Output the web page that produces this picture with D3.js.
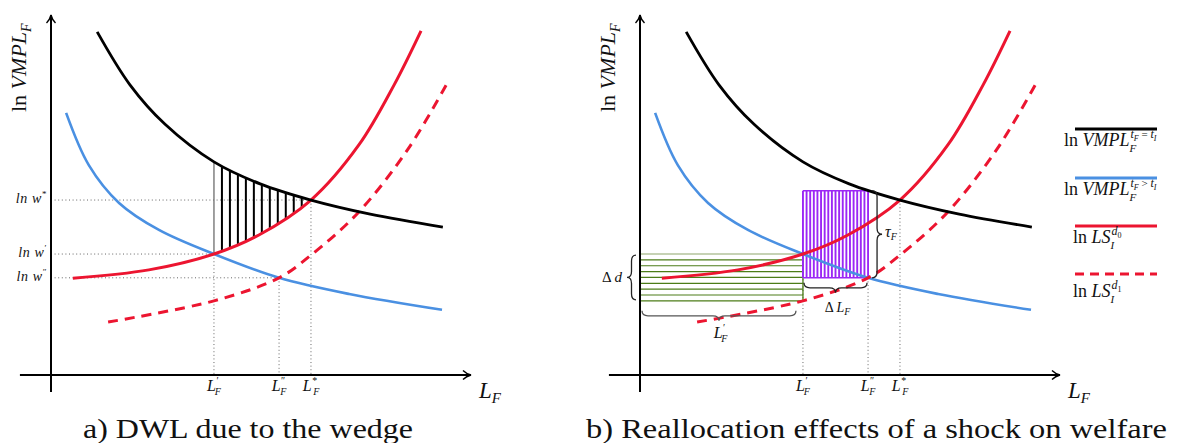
<!DOCTYPE html>
<html>
<head>
<meta charset="utf-8">
<script src="https://cdn.jsdelivr.net/npm/d3@7"></script>
<style>
  html, body { margin: 0; padding: 0; background: #fff; }
  svg { display: block; }
</style>
</head>
<body>
<svg id="chart" width="1182" height="443"></svg>
<script>
// ---- Schematic curves (model units: labour on x, log value on y) ----
const vmplEqual  = [[1.10, 9.53], [1.88, 8.06], [2.71, 6.97], [3.88, 5.92], [4.98, 5.31], [6.19, 4.86], [7.60, 4.47], [9.33, 4.11]];
const vmplWedge  = [[0.36, 7.28], [0.90, 5.83], [1.62, 4.78], [2.57, 4.03], [3.88, 3.36], [5.43, 2.70], [7.10, 2.25], [9.31, 1.81]];
const supplyBase = [[0.52, 2.69], [2.33, 2.92], [3.88, 3.36], [4.95, 3.89], [6.19, 4.86], [7.33, 6.39], [8.17, 8.06], [8.81, 9.56]];
const supplyShock = [[1.36, 1.47], [3.88, 2.06], [5.43, 2.70], [6.19, 3.33], [7.33, 4.53], [8.52, 6.31], [9.45, 8.14]];

// ---- Labour levels and wage levels ----
const laborValues = [3.88, 5.43, 6.19];          // L', L'', L*
const laborPrimes = ["\u2032", "\u2033", "*"];
const wageValues = [4.86, 3.36, 2.70];           // w*, w', w''
const wageMarks = ["*", "\u2032", "\u2033"];

// ---- Right-panel welfare boxes ----
const tauTop = 5.12;      // VMPL at L'' (top of the wedge box)
const shockLow = 2.06;    // shocked supply at L' (bottom of the Δd box)

const captions = ["a) DWL due to the wedge", "b) Reallocation effects of a shock on welfare"];

const SERIF = "Liberation Serif, Times New Roman, Times, serif";
const BLACK = "#000", BLUE = "#4a90e2", RED = "#ec1530", PURPLE = "#9b27f5", GREEN = "#4c7d18";

const svg = d3.select("#chart");
const defs = svg.append("defs");

// LaTeX-like open arrow tip
defs.append("marker")
  .attr("id", "tip").attr("viewBox", "-10 -6 12 12")
  .attr("refX", 0).attr("refY", 0)
  .attr("markerWidth", 12).attr("markerHeight", 12)
  .attr("markerUnits", "userSpaceOnUse").attr("orient", "auto")
  .append("path")
  .attr("d", "M-8,-4.5 C-5,-1.5 -2,-0.5 0,0 C-2,0.5 -5,1.5 -8,4.5")
  .attr("fill", "none").attr("stroke", "#000").attr("stroke-width", 1.4);

const y = d3.scaleLinear().domain([0, 10]).range([375, 15]);
const xLeft = d3.scaleLinear().domain([0, 10]).range([51, 471]);
const xRight = d3.scaleLinear().domain([0, 10]).range([640, 1060]);

function math(sel, x, yy, parts, anchor) {
  const t = sel.append("text")
    .attr("x", x).attr("y", yy)
    .attr("text-anchor", anchor || "start")
    .attr("font-family", SERIF).attr("fill", "#111");
  let prev = 0;
  parts.forEach(p => {
    const s = t.append("tspan").text(p.t)
      .attr("font-size", p.fs)
      .attr("font-style", p.it ? "italic" : "normal");
    const sh = p.sh || 0;
    if (sh !== prev) s.attr("dy", sh - prev);
    if (p.dx) s.attr("dx", p.dx);
    prev = sh;
  });
  return t;
}

function braceH(x1, x2, yy, h) {
  // horizontal curly brace, tip pointing down (h > 0)
  const xm = (x1 + x2) / 2, r = Math.min(6, (x2 - x1) / 6), m = yy + h / 2;
  return `M${x1},${yy} Q${x1},${m} ${x1 + r},${m} L${xm - r},${m} Q${xm},${m} ${xm},${yy + h} ` +
         `Q${xm},${m} ${xm + r},${m} L${x2 - r},${m} Q${x2},${m} ${x2},${yy}`;
}
function braceV(y1, y2, xx, w) {
  // vertical curly brace, tip pointing left (w < 0) or right (w > 0)
  const ym = (y1 + y2) / 2, r = Math.min(6, (y2 - y1) / 6), m = xx + w / 2;
  return `M${xx},${y1} Q${m},${y1} ${m},${y1 + r} L${m},${ym - r} Q${m},${ym} ${xx + w},${ym} ` +
         `Q${m},${ym} ${m},${ym + r} L${m},${y2 - r} Q${m},${y2} ${xx},${y2}`;
}

function drawPanel(x, id) {
  const g = svg.append("g").attr("class", "panel-" + id);
  const line = d3.line().x(d => x(d[0])).y(d => y(d[1])).curve(d3.curveCatmullRom.alpha(0.5));
  return { g, line };
}

function drawAxes(g, x) {
  g.append("line")
    .attr("x1", x(0)).attr("x2", x(0)).attr("y1", y(-0.47)).attr("y2", y(10))
    .attr("stroke", "#000").attr("stroke-width", 2).attr("marker-end", "url(#tip)");
  g.append("line")
    .attr("x1", x(-0.74)).attr("x2", x(10)).attr("y1", y(0)).attr("y2", y(0))
    .attr("stroke", "#000").attr("stroke-width", 2).attr("marker-end", "url(#tip)");

  math(g, 0, 0, [{ t: "ln ", fs: 22 }, { t: "VMPL", it: true, fs: 22 }, { t: "F", it: true, fs: 14, sh: 5 }])
    .attr("transform", `translate(${x(0) - 25},112) rotate(-90)`);
  math(g, x(10) + 8, 398, [{ t: "L", it: true, fs: 23 }, { t: "F", it: true, fs: 15, sh: 5 }]);

  laborValues.forEach((v, i) => {
    math(g, x(v), 391, [
      { t: "L", it: true, fs: 16 },
      { t: laborPrimes[i], fs: 10, sh: -7, dx: 0.5 },
      { t: "F", it: true, fs: 10, sh: 4, dx: i === 1 ? -5 : -4 }
    ], "middle");
  });
}

function drawCurves(g, line) {
  g.append("path").attr("d", line(vmplWedge)).attr("fill", "none")
    .attr("stroke", BLUE).attr("stroke-width", 2.6);
  g.append("path").attr("d", line(supplyShock)).attr("fill", "none")
    .attr("stroke", RED).attr("stroke-width", 3).attr("stroke-dasharray", "10,7");
  g.append("path").attr("d", line(supplyBase)).attr("fill", "none")
    .attr("stroke", RED).attr("stroke-width", 3);
  g.append("path").attr("d", line(vmplEqual)).attr("fill", "none")
    .attr("stroke", BLACK).attr("stroke-width", 2.8);
}

const dotted = sel => sel.attr("stroke", "#666").attr("stroke-width", 1).attr("stroke-dasharray", "1,2.6");

// ================= Panel a =================
{
  const { g, line } = drawPanel(xLeft, "a");
  const x = xLeft;

  // dotted guides
  const wageEnds = [laborValues[2], laborValues[0], laborValues[1]];
  wageValues.forEach((w, i) => {
    g.append("line").attr("x1", x(0)).attr("x2", x(wageEnds[i]))
      .attr("y1", y(w)).attr("y2", y(w)).call(dotted);
    math(g, x(0) - 4, y(w) + 3, [
      { t: "ln w", it: true, fs: 14 },
      { t: wageMarks[i], fs: 9, sh: -6 }
    ], "end").attr("letter-spacing", 0.6);
  });
  const laborTops = [wageValues[1], wageValues[2], wageValues[0]];
  laborValues.forEach((v, i) => {
    g.append("line").attr("x1", x(v)).attr("x2", x(v))
      .attr("y1", y(laborTops[i])).attr("y2", y(0)).call(dotted);
  });

  // deadweight loss: vertical hatching between VMPL and supply on [L', L*]
  const bottom = y(-1), top = y(11);
  defs.append("clipPath").attr("id", "belowVmpl").append("path")
    .attr("d", line(vmplEqual) + `L${x(vmplEqual[vmplEqual.length - 1][0])},${bottom}L${x(vmplEqual[0][0])},${bottom}Z`);
  defs.append("clipPath").attr("id", "aboveSupply").append("path")
    .attr("d", line(supplyBase) + `L${x(supplyBase[supplyBase.length - 1][0])},${top}L${x(supplyBase[0][0])},${top}Z`);
  const hatch = g.append("g").attr("clip-path", "url(#belowVmpl)")
    .append("g").attr("clip-path", "url(#aboveSupply)");
  const hatchX = d3.range(laborValues[0], laborValues[2], 0.19);
  hatch.selectAll("line").data(hatchX).join("line")
    .attr("x1", d => x(d)).attr("x2", d => x(d))
    .attr("y1", y(wageValues[0] + 1.5)).attr("y2", y(wageValues[1] - 0.2))
    .attr("stroke", (d, i) => i === 0 ? "#777" : "#000")
    .attr("stroke-width", (d, i) => i === 0 ? 1.4 : 2);

  drawCurves(g, line);
  drawAxes(g, x);
}

// ================= Panel b =================
{
  const { g, line } = drawPanel(xRight, "b");
  const x = xRight;

  const laborTops = [wageValues[1], wageValues[2], wageValues[0]];
  laborValues.forEach((v, i) => {
    g.append("line").attr("x1", x(v)).attr("x2", x(v))
      .attr("y1", y(laborTops[i])).attr("y2", y(0)).call(dotted);
  });

  // Δd box: horizontal green hatching between the two supply levels, up to L'
  const greenY = d3.range(0, 9).map(k => shockLow + k * (wageValues[1] - shockLow) / 8);
  g.selectAll("line.green").data(greenY).join("line").attr("class", "green")
    .attr("x1", x(0)).attr("x2", x(laborValues[0]))
    .attr("y1", d => y(d)).attr("y2", d => y(d))
    .attr("stroke", (d, i) => i === greenY.length - 1 ? "#b3c39b" : GREEN)
    .attr("stroke-width", (d, i) => i === greenY.length - 1 ? 1.6 : 1.2);
  g.append("line").attr("x1", x(laborValues[0])).attr("x2", x(laborValues[0]))
    .attr("y1", y(wageValues[1])).attr("y2", y(shockLow))
    .attr("stroke", GREEN).attr("stroke-width", 1.3);

  // wedge box: vertical purple stripes from L' to L''
  const nStripes = 18;
  const purpleX = d3.range(0, nStripes + 1).map(k => laborValues[0] + k * (laborValues[1] - laborValues[0]) / nStripes);
  g.selectAll("line.purple").data(purpleX).join("line").attr("class", "purple")
    .attr("x1", d => x(d)).attr("x2", d => x(d))
    .attr("y1", y(tauTop)).attr("y2", y(wageValues[2]))
    .attr("stroke", PURPLE).attr("stroke-width", 1.9);
  g.append("line").attr("x1", x(laborValues[0])).attr("x2", x(laborValues[1]))
    .attr("y1", y(tauTop)).attr("y2", y(tauTop)).attr("stroke", PURPLE).attr("stroke-width", 1.4);
  g.append("line").attr("x1", x(laborValues[0])).attr("x2", x(laborValues[1]))
    .attr("y1", y(wageValues[2])).attr("y2", y(wageValues[2])).attr("stroke", PURPLE).attr("stroke-width", 1.4);

  drawCurves(g, line);

  // braces and their labels
  const braceStyle = s => s.attr("fill", "none").attr("stroke", "#222").attr("stroke-width", 1.3);
  g.append("path").attr("d", braceV(y(wageValues[1]) + 1, y(shockLow) - 1, x(0) - 4, -9)).call(braceStyle);
  math(g, x(0) - 18, (y(wageValues[1]) + y(shockLow)) / 2 + 5,
    [{ t: "\u0394 ", fs: 15 }, { t: "d", it: true, fs: 15 }], "end");

  g.append("path").attr("d", braceH(x(0) + 2, x(laborValues[0]) - 7, y(shockLow) + 10, 10))
    .call(braceStyle).attr("stroke", "#555");
  math(g, (x(0) + x(laborValues[0])) / 2 - 1, y(shockLow) + 37, [
    { t: "L", it: true, fs: 16 },
    { t: "\u2032", fs: 10, sh: -7, dx: 0.5 },
    { t: "F", it: true, fs: 10, sh: 4, dx: -4 }
  ], "middle");

  g.append("path").attr("d", braceH(x(laborValues[0]) + 1, x(laborValues[1]) - 1, y(wageValues[2]) + 5, 10)).call(braceStyle);
  math(g, (x(laborValues[0]) + x(laborValues[1])) / 2 + 2, y(wageValues[2]) + 34, [
    { t: "\u0394 ", fs: 14 }, { t: "L", it: true, fs: 14 }, { t: "F", it: true, fs: 10, sh: 3 }
  ], "middle");

  g.append("path").attr("d", braceV(y(tauTop), y(wageValues[2]), x(laborValues[1]) + 4, 10)).call(braceStyle);
  math(g, x(laborValues[1]) + 17, (y(tauTop) + y(wageValues[2])) / 2 + 3, [
    { t: "\u03c4", it: true, fs: 16 }, { t: "F", it: true, fs: 10, sh: 3 }
  ]);

  drawAxes(g, x);

  // legend
  const legend = svg.append("g").attr("class", "legend");
  const legendRows = [
    { stroke: BLACK, dash: null, yLine: 129, yText: 146, kind: "vmpl", rel: " = " },
    { stroke: BLUE, dash: null, yLine: 178, yText: 195, kind: "vmpl", rel: " > " },
    { stroke: RED, dash: null, yLine: 226, yText: 243, kind: "ls", idx: "0" },
    { stroke: RED, dash: "9,6", yLine: 274, yText: 297, kind: "ls", idx: "1" }
  ];
  legendRows.forEach(r => {
    legend.append("line").attr("x1", 1075).attr("x2", 1157)
      .attr("y1", r.yLine).attr("y2", r.yLine)
      .attr("stroke", r.stroke).attr("stroke-width", 3)
      .attr("stroke-dasharray", r.dash);
    if (r.kind === "vmpl") {
      // main term, then the stacked sub/superscripts as separate pieces
      const main = math(legend, 1064, r.yText, [{ t: "ln ", fs: 18 }, { t: "VMPL", it: true, fs: 18 }]);
      const w = main.node().getComputedTextLength();
      math(legend, 1064 + w, r.yText + 6, [{ t: "F", it: true, fs: 11 }]);
      math(legend, 1064 + w + 1, r.yText - 8, [
        { t: "t", it: true, fs: 12 },
        { t: "F", it: true, fs: 8, sh: 3 },
        { t: r.rel, fs: 11, sh: 0 },
        { t: "t", it: true, fs: 12 },
        { t: "I", it: true, fs: 8, sh: 3 }
      ]);
    } else {
      const main = math(legend, 1073, r.yText, [{ t: "ln ", fs: 18 }, { t: "LS", it: true, fs: 18 }]);
      const w = main.node().getComputedTextLength();
      math(legend, 1073 + w, r.yText + 6, [{ t: "I", it: true, fs: 11 }]);
      math(legend, 1073 + w + 1, r.yText - 8, [
        { t: "d", it: true, fs: 12 },
        { t: r.idx, fs: 8, sh: 3 }
      ]);
    }
  });
}

// captions
svg.append("text").attr("x", 83).attr("y", 438)
  .attr("font-family", SERIF).attr("font-size", 27).attr("fill", "#111")
  .attr("textLength", 330).attr("lengthAdjust", "spacingAndGlyphs")
  .text(captions[0]);
svg.append("text").attr("x", 586).attr("y", 438)
  .attr("font-family", SERIF).attr("font-size", 27).attr("fill", "#111")
  .attr("textLength", 581).attr("lengthAdjust", "spacingAndGlyphs")
  .text(captions[1]);
</script>
</body>
</html>
